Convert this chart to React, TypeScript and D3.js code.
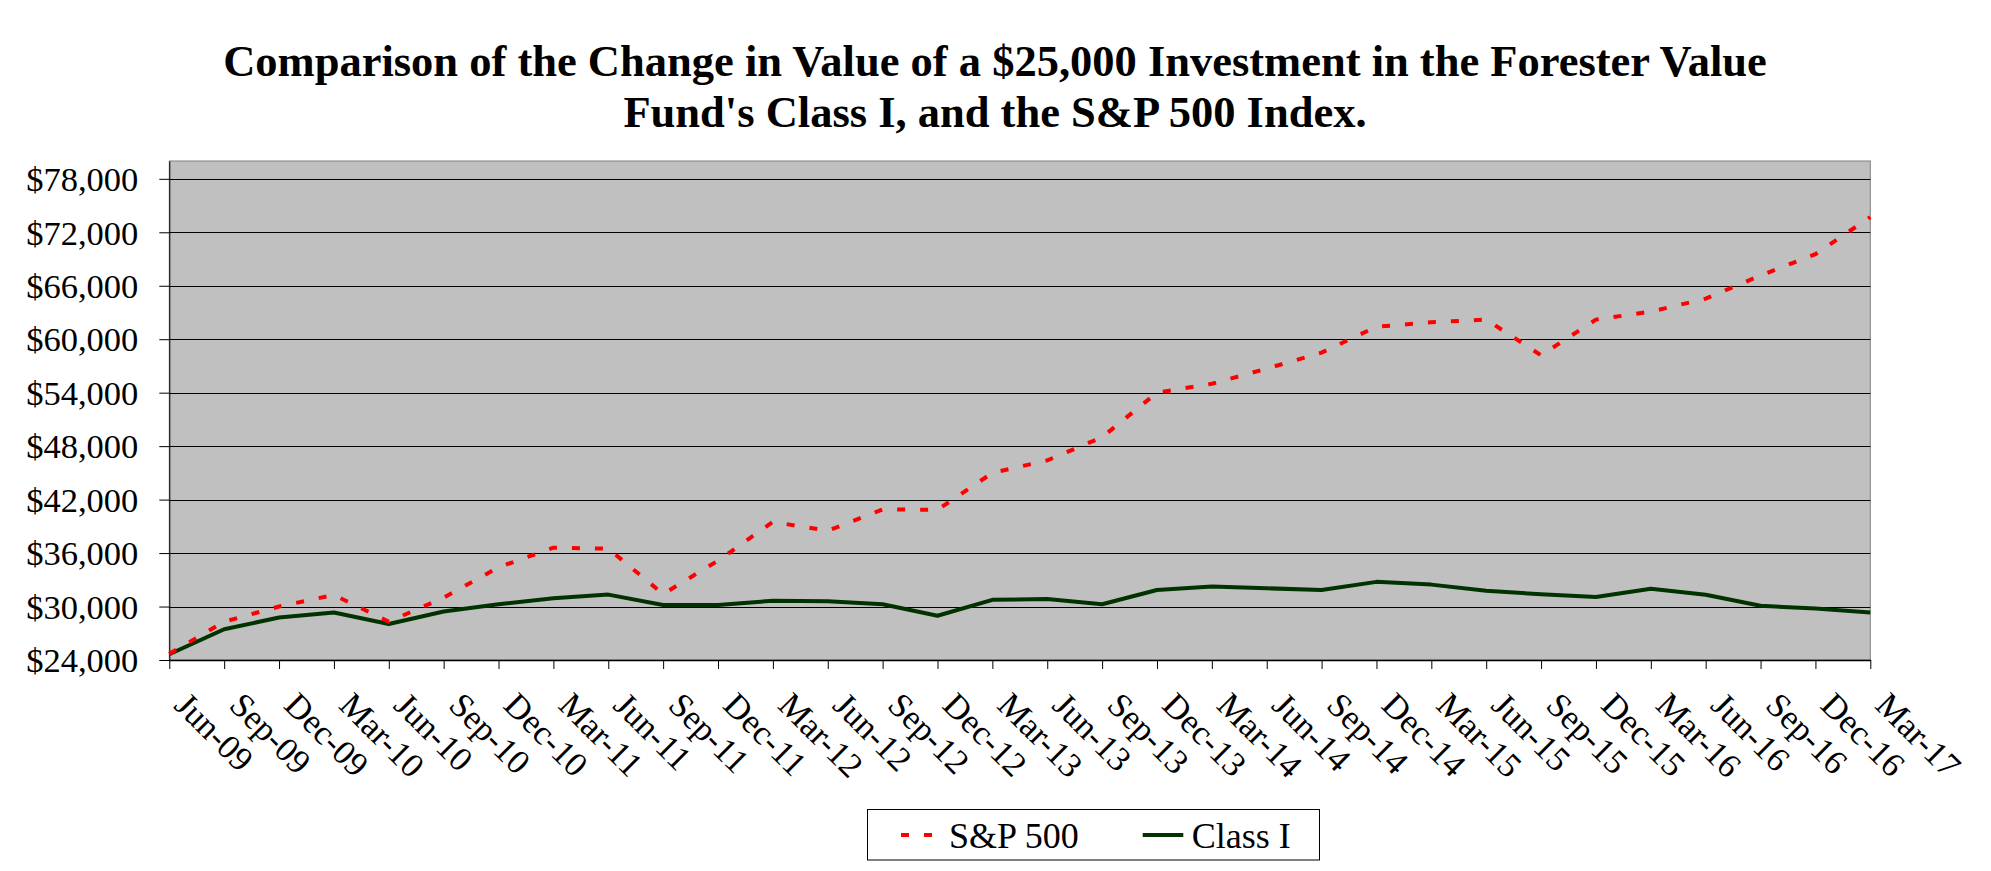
import React, { useEffect, useRef } from 'react';
import * as d3 from 'd3';

const quarters = [
  'Jun-09', 'Sep-09', 'Dec-09', 'Mar-10', 'Jun-10', 'Sep-10', 'Dec-10', 'Mar-11',
  'Jun-11', 'Sep-11', 'Dec-11', 'Mar-12', 'Jun-12', 'Sep-12', 'Dec-12', 'Mar-13',
  'Jun-13', 'Sep-13', 'Dec-13', 'Mar-14', 'Jun-14', 'Sep-14', 'Dec-14', 'Mar-15',
  'Jun-15', 'Sep-15', 'Dec-15', 'Mar-16', 'Jun-16', 'Sep-16', 'Dec-16', 'Mar-17',
];

const sp500 = [
  24700, 28300, 30000, 31300, 28300, 31000, 34400, 36600,
  36500, 31400, 35150, 39500, 38500, 40900, 40850, 45000,
  46400, 49000, 54000, 55000, 56700, 58500, 61400, 61900,
  62200, 58200, 62200, 63100, 64550, 67150, 69550, 73700,
];

const classI = [
  24650, 27450, 28770, 29330, 28040, 29450, 30250, 30930,
  31340, 30170, 30170, 30650, 30580, 30250, 28970, 30750,
  30850, 30250, 31850, 32260, 32050, 31850, 32770, 32460,
  31780, 31370, 31080, 32000, 31330, 30080, 29770, 29330,
];

const yTicks = [24000, 30000, 36000, 42000, 48000, 54000, 60000, 66000, 72000, 78000];

const titleLines = [
  'Comparison of the Change in Value of a $25,000 Investment in the Forester Value',
  "Fund's Class I, and the S&P 500 Index.",
];

const FONT = '"Liberation Serif", "Times New Roman", serif';

const ValueChart: React.FC = () => {
  const svgRef = useRef<SVGSVGElement>(null);
  const width = 1991;
  const height = 871;

  useEffect(() => {
    if (!svgRef.current) return;
    const svg = d3.select(svgRef.current);
    svg.selectAll('*').remove();

    const left = 169.3, right = 1870.3, top = 161, bottom = 660;

    const x = d3.scalePoint<string>().domain(quarters).range([left, right]);
    const y = d3.scaleLinear().domain([24000, 80000]).range([bottom, top]);

    svg.append('rect')
      .attr('width', width)
      .attr('height', height)
      .attr('fill', '#ffffff');

    // title
    titleLines.forEach((t, i) => {
      svg.append('text')
        .attr('x', 995)
        .attr('y', 75.7 + i * 51.6)
        .attr('text-anchor', 'middle')
        .style('font-family', FONT)
        .style('font-size', '44.5px')
        .style('font-weight', 'bold')
        .text(t);
    });

    // plot area
    svg.append('rect')
      .attr('x', left)
      .attr('y', top)
      .attr('width', right - left)
      .attr('height', bottom - top)
      .attr('fill', '#c0c0c0')
      .attr('stroke', '#808080')
      .attr('stroke-width', 1);

    // gridlines
    svg.append('g')
      .selectAll('line')
      .data(yTicks.filter(d => d > 24000))
      .enter()
      .append('line')
      .attr('x1', left)
      .attr('x2', right)
      .attr('y1', d => Math.round(y(d)) + 0.5)
      .attr('y2', d => Math.round(y(d)) + 0.5)
      .attr('stroke', '#000')
      .attr('stroke-width', 1);

    // y axis
    const yAxis = svg.append('g')
      .attr('transform', `translate(${left}, 0)`)
      .call(
        d3.axisLeft(y)
          .tickValues(yTicks)
          .tickSize(10)
          .tickSizeOuter(0)
          .tickPadding(21)
          .tickFormat(d => '$' + d3.format(',')(d as number))
      );
    yAxis.select('.domain').attr('stroke', '#000');
    yAxis.selectAll('text')
      .attr('dy', '0.34em')
      .style('font-family', FONT)
      .style('font-size', '34.5px')
      .attr('fill', '#000');

    // x axis
    const xAxis = svg.append('g')
      .attr('transform', `translate(0, ${bottom})`)
      .call(d3.axisBottom(x).tickSize(9).tickSizeOuter(0));
    xAxis.select('.domain').attr('stroke', '#000').attr('stroke-width', 1.5);
    xAxis.selectAll('.tick line').attr('stroke', '#000');
    xAxis.selectAll('text')
      .attr('x', 0)
      .attr('y', 0)
      .attr('dy', 0)
      .attr('text-anchor', 'start')
      .attr('transform', 'translate(3, 47) rotate(45)')
      .style('font-family', FONT)
      .style('font-size', '34.5px')
      .attr('fill', '#000');

    const line = d3.line<number>()
      .x((_, i) => x(quarters[i]) as number)
      .y(d => y(d));

    svg.append('path')
      .datum(classI)
      .attr('d', line)
      .attr('fill', 'none')
      .attr('stroke', '#003300')
      .attr('stroke-width', 4)
      .attr('stroke-linejoin', 'round');

    svg.append('path')
      .datum(sp500)
      .attr('d', line)
      .attr('fill', 'none')
      .attr('stroke', '#ff0000')
      .attr('stroke-width', 4)
      .attr('stroke-dasharray', '8 15');

    // legend
    const lg = svg.append('g');
    lg.append('rect')
      .attr('x', 867.5)
      .attr('y', 809.5)
      .attr('width', 452)
      .attr('height', 50.5)
      .attr('fill', '#fff')
      .attr('stroke', '#000')
      .attr('stroke-width', 1);
    lg.append('line')
      .attr('x1', 901).attr('x2', 932)
      .attr('y1', 835).attr('y2', 835)
      .attr('stroke', '#ff0000')
      .attr('stroke-width', 4)
      .attr('stroke-dasharray', '8 15');
    lg.append('text')
      .attr('x', 949).attr('y', 848)
      .style('font-family', FONT)
      .style('font-size', '36px')
      .text('S&P 500');
    lg.append('line')
      .attr('x1', 1142.7).attr('x2', 1183.3)
      .attr('y1', 835).attr('y2', 835)
      .attr('stroke', '#003300')
      .attr('stroke-width', 4);
    lg.append('text')
      .attr('x', 1191.7).attr('y', 848)
      .style('font-family', FONT)
      .style('font-size', '36px')
      .text('Class I');
  }, []);

  return (
    <div style={{ position: 'absolute', left: 0, top: 0 }}>
      <svg ref={svgRef} width={width} height={height} style={{ display: 'block' }} />
    </div>
  );
};

export default function App() {
  return <ValueChart />;
}
